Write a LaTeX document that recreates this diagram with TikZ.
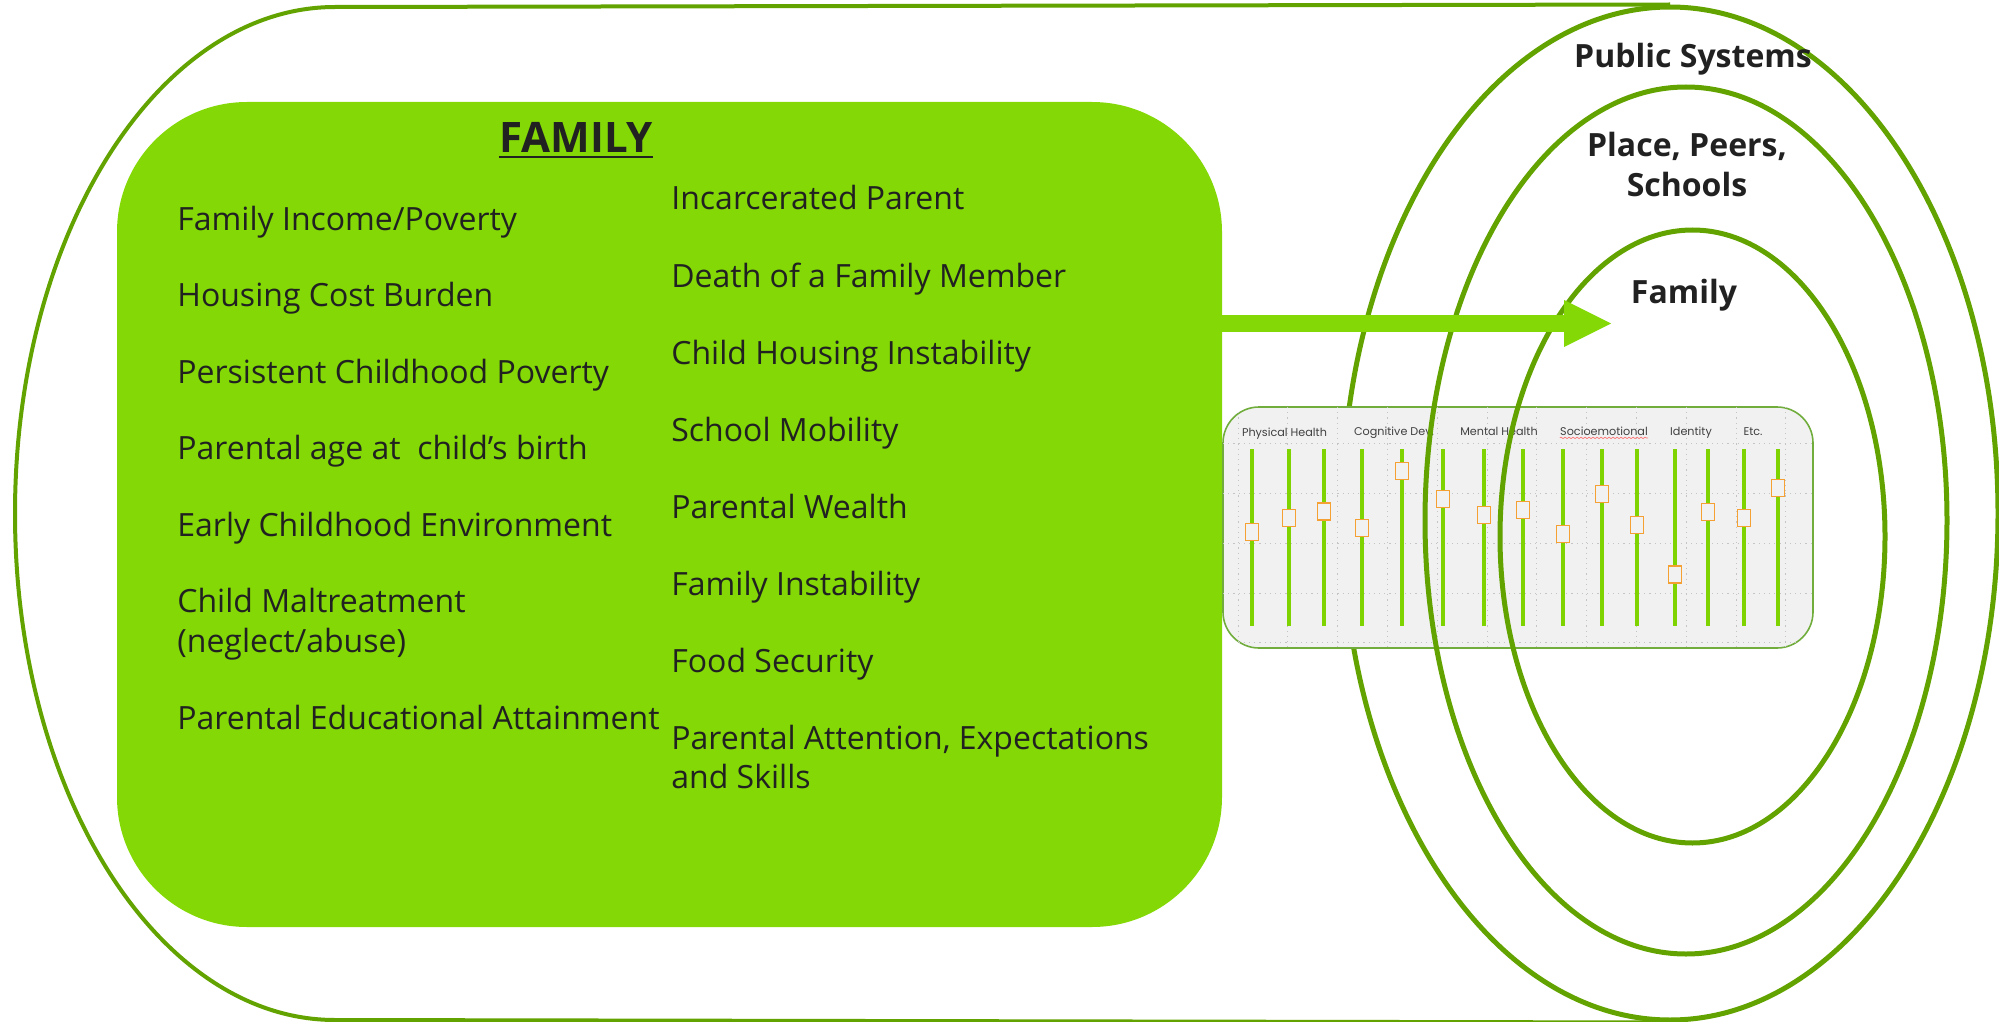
\documentclass[tikz,border=0pt]{standalone}
\usepackage{fontspec}
\setmainfont{Open Sans}
\newfontfamily\panelfont{Poppins}
\usetikzlibrary{arrows.meta,shapes.geometric,decorations.pathmorphing}

\definecolor{limefill}{RGB}{131,216,6}
\definecolor{ringgreen}{RGB}{98,163,0}
\definecolor{inkdark}{RGB}{33,33,33}
\definecolor{panelfill}{RGB}{241,241,241}
\definecolor{panelline}{RGB}{112,173,60}
\definecolor{griddot}{RGB}{196,196,196}
\definecolor{bargreen}{RGB}{126,211,0}
\definecolor{knoborange}{RGB}{245,160,50}
\definecolor{taggray}{RGB}{64,64,64}

\begin{document}
\begin{tikzpicture}[x=0.5pt,y=-0.5pt,
  frameline/.style={draw=ringgreen, line width=2pt},
  ring/.style={ellipse, draw=ringgreen, line width=2.5pt, inner sep=0pt},
  item/.style={anchor=base west, inner sep=0pt, text=inkdark,
    font=\fontsize{16}{19.7}\selectfont},
  ringlabel/.style={anchor=base, inner sep=0pt, text=inkdark,
    font=\fontsize{16}{20}\selectfont\bfseries},
  paneltag/.style={anchor=base, inner sep=0pt, text=taggray,
    font=\panelfont\fontsize{5.6}{7}\selectfont},
  bar/.style={draw=bargreen, line width=2pt},
  knob/.style={draw=knoborange, line width=0.75pt, fill=panelfill},
  bigarrow/.style={draw=limefill, line width=8.5pt,
    -{Triangle[length=23.5pt,width=23.5pt,line width=0pt]}},
]
\useasboundingbox (0,0) rectangle (1999,1022);

% nested ecological rings
\node[ring, minimum width=328pt, minimum height=506.5pt] (outer) at (1670,513.5) {};

% outer frame: straight top and bottom, half-ellipse on the left
\draw[frameline] (outer.north) -- (335,7)
  arc[start angle=270, end angle=90, x radius=320, y radius=506.5]
  -- (outer.south);

% the family factor box
\node[fill=limefill, rounded corners=65pt, minimum width=552.5pt,
  minimum height=412.5pt, inner sep=0pt] (fambox) at (669.5,514.5) {};

\node[anchor=base, inner sep=0pt, text=inkdark,
  font=\fontsize{21}{25}\selectfont\bfseries] (title) at (576,153) {FAMILY};
\draw[draw=inkdark, line width=1.4pt]
  ([yshift=-2pt]title.base west) -- ([yshift=-2pt]title.base east);

% left column
\node[item] (l1) at (177,230) {Family Income/Poverty};
\node[item] (l2) at (177,306.5) {Housing Cost Burden};
\node[item] (l3) at (177,383) {Persistent Childhood Poverty};
\node[item] (l4) at (177,459.5) {Parental age at\ \ child’s birth};
\node[item] (l5) at (177,536) {Early Childhood Environment};
\node[item] (l6) at (177,612.5) {Child Maltreatment};
\node[item] (l6b) at (177,652) {(neglect/abuse)};
\node[item] (l7) at (177,729) {Parental Educational Attainment};

% right column
\node[item] (r1) at (671,210) {Incarcerated Parent};
\node[item] (r2) at (671,287) {Death of a Family Member};
\node[item] (r3) at (671,364) {Child Housing Instability};
\node[item] (r4) at (671,441) {School Mobility};
\node[item] (r5) at (671,518) {Parental Wealth};
\node[item] (r6) at (671,595) {Family Instability};
\node[item] (r7) at (671,672) {Food Security};
\node[item] (r8) at (671,749) {Parental Attention, Expectations};
\node[item] (r8b) at (671,788) {and Skills};

% outcome slider panel
\node[fill=panelfill, draw=panelline, line width=0.8pt, rounded corners=18pt,
  minimum width=295pt, minimum height=120.5pt, inner sep=0pt] (panel) at (1518,527.5) {};
\begin{scope}
  \clip[rounded corners=18pt] (panel.north west) rectangle (panel.south east);
  \foreach \k in {0,...,11}
    \draw[griddot, line width=0.5pt, dash pattern=on 0.6pt off 2pt]
      ({1238+49.8*\k},407) -- ({1238+49.8*\k},648);
  \foreach \gy in {443,493,543,593,642}
    \draw[griddot, line width=0.5pt, dash pattern=on 0.6pt off 2pt]
      (1223,\gy) -- (1813,\gy);
\end{scope}

\foreach \bx/\by in {1252/532, 1289/518, 1324/511.5, 1362/528, 1402/471,
    1443/499, 1484/515, 1523/510, 1563/534, 1602/494, 1637/525,
    1675/574.5, 1708/512, 1744/518, 1778/488} {
  \draw[bar] (\bx,449) -- (\bx,626);
  \draw[knob] ({\bx-6.5},{\by-8.5}) rectangle ({\bx+6.5},{\by+8.5});
}

\node[paneltag] (tphys) at (1284.5,436) {Physical Health};
\node[paneltag] (tcog) at (1394,435) {Cognitive Dev.};
\node[paneltag] (tment) at (1499,435.5) {Mental Health};
\node[paneltag] (tsocio) at (1604,435.5) {Socioemotional};
\node[paneltag] (tident) at (1691,435.5) {Identity};
\node[paneltag] (tetc) at (1753,435) {Etc.};
\draw[red!55, line width=0.35pt, decorate,
  decoration={snake, amplitude=0.35pt, segment length=2pt}]
  ([yshift=-1.2pt]tsocio.base west) -- ([yshift=-1.2pt]tsocio.base east);

% inner rings
\node[ring, minimum width=261pt, minimum height=433.5pt] (middle) at (1686,520.5) {};
\node[ring, minimum width=192.5pt, minimum height=306.5pt] (inner) at (1692.5,536.5) {};

\node[ringlabel] (lpub) at (1693,68) {Public Systems};
\node[ringlabel] (lplace) at (1687,157) {Place, Peers,};
\node[ringlabel] (lsch) at (1687,197) {Schools};
\node[ringlabel] (lfam) at (1684,303) {Family};

% influence arrow from the family box into the rings
\coordinate (tip) at (1611,323.5);
\draw[bigarrow] (fambox.east |- tip) -- (tip);
\end{tikzpicture}
\end{document}
